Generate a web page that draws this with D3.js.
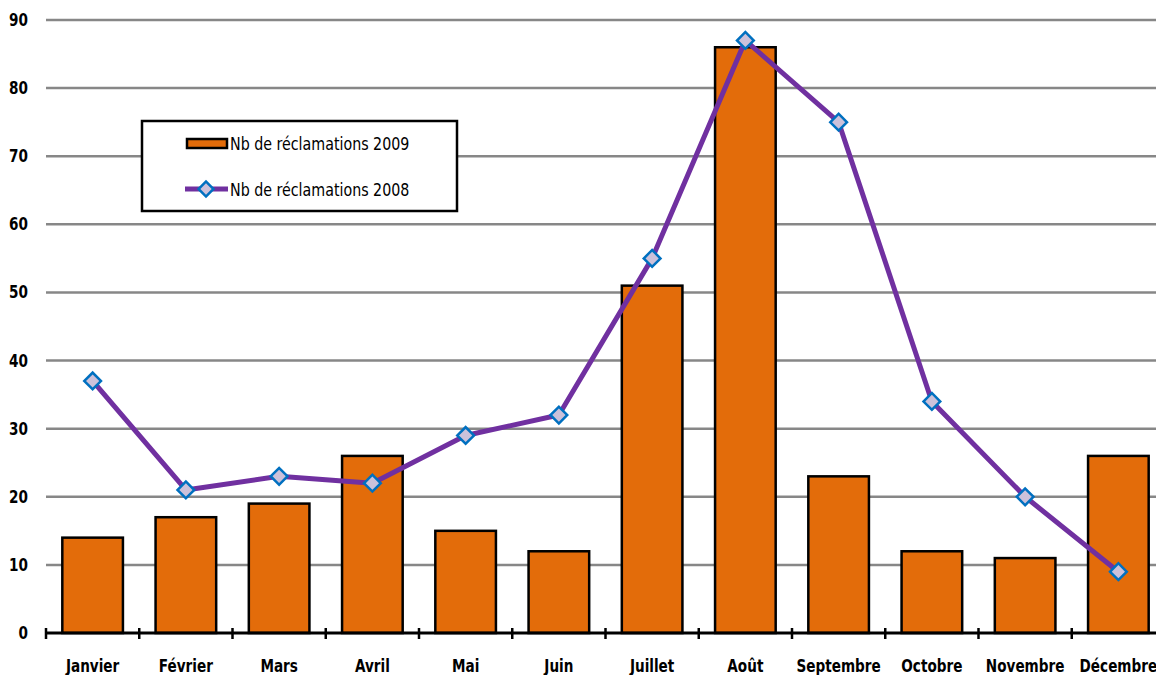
<!DOCTYPE html>
<html>
<head>
<meta charset="utf-8">
<script src="https://cdn.jsdelivr.net/npm/d3@7"></script>
<style>
  body { margin: 0; background: #fff; }
  svg { display: block; font-family: "DejaVu Sans Condensed", sans-serif; }
</style>
</head>
<body>
<svg width="1156" height="675"></svg>
<script>
const months = ["Janvier", "Février", "Mars", "Avril", "Mai", "Juin", "Juillet", "Août", "Septembre", "Octobre", "Novembre", "Décembre"];
const reclam2009 = [14, 17, 19, 26, 15, 12, 51, 86, 23, 12, 11, 26];
const reclam2008 = [37, 21, 23, 22, 29, 32, 55, 87, 75, 34, 20, 9];
const yTicks = [0, 10, 20, 30, 40, 50, 60, 70, 80, 90];
const seriesNames = ["Nb de réclamations 2009", "Nb de réclamations 2008"];

const svg = d3.select("svg");
const margin = {top: 20, left: 46};
const plotW = 1119, plotH = 613;
const squeeze = 0.84; // narrow font look

const chart = svg.append("g")
    .attr("transform", `translate(${margin.left}, ${margin.top})`);

const x = d3.scaleBand()
    .domain(months)
    .range([0, plotW])
    .paddingInner(0.35)
    .paddingOuter(0.175);

const y = d3.scaleLinear()
    .domain([0, 90])
    .range([plotH, 0]);

// grid lines
chart.selectAll("line.grid")
    .data(yTicks.filter(d => d > 0))
    .enter()
    .append("line")
    .attr("class", "grid")
    .attr("x1", 0)
    .attr("x2", plotW)
    .attr("y1", d => y(d))
    .attr("y2", d => y(d))
    .attr("stroke", "#878787")
    .attr("stroke-width", 2.5);

// y labels
chart.selectAll("text.ylab")
    .data(yTicks)
    .enter()
    .append("text")
    .attr("class", "ylab")
    .attr("transform", d => `translate(-18, ${y(d) + 6}) scale(${squeeze}, 1)`)
    .attr("text-anchor", "end")
    .attr("font-size", 18)
    .attr("font-weight", 600)
    .attr("fill", "#000")
    .text(d => d);

// bars
chart.selectAll("rect.bar")
    .data(reclam2009)
    .enter()
    .append("rect")
    .attr("class", "bar")
    .attr("x", (d, i) => x(months[i]))
    .attr("y", d => y(d))
    .attr("width", x.bandwidth())
    .attr("height", d => plotH - y(d))
    .attr("fill", "#E36C0A")
    .attr("stroke", "#000")
    .attr("stroke-width", 2.5);

// x axis
const xAxis = chart.append("g")
    .attr("transform", `translate(0, ${plotH})`);
xAxis.append("line")
    .attr("x1", 0).attr("x2", plotW)
    .attr("stroke", "#000").attr("stroke-width", 3);
xAxis.selectAll("line.tick")
    .data(d3.range(months.length + 1))
    .enter()
    .append("line")
    .attr("class", "tick")
    .attr("x1", i => i * x.step())
    .attr("x2", i => i * x.step())
    .attr("y1", -5).attr("y2", 6)
    .attr("stroke", "#000").attr("stroke-width", 2.5);
xAxis.selectAll("text")
    .data(months)
    .enter()
    .append("text")
    .attr("transform", d => `translate(${x(d) + x.bandwidth() / 2}, 39) scale(${squeeze}, 1)`)
    .attr("text-anchor", "middle")
    .attr("font-size", 18)
    .attr("font-weight", 600)
    .text(d => d);

// line 2008
const line = d3.line()
    .x((d, i) => x(months[i]) + x.bandwidth() / 2)
    .y(d => y(d));

chart.append("path")
    .datum(reclam2008)
    .attr("d", line)
    .attr("fill", "none")
    .attr("stroke", "#7030A0")
    .attr("stroke-width", 5)
    .attr("stroke-linejoin", "round");

const diamond = d3.symbol().type(d3.symbolSquare).size(140);
chart.selectAll("path.marker")
    .data(reclam2008)
    .enter()
    .append("path")
    .attr("class", "marker")
    .attr("d", diamond)
    .attr("transform", (d, i) => `translate(${x(months[i]) + x.bandwidth() / 2}, ${y(d)}) rotate(45)`)
    .attr("fill", "#CCC1DA")
    .attr("stroke", "#0070C0")
    .attr("stroke-width", 2.5);

// legend
const legend = svg.append("g").attr("transform", "translate(142, 121)");
legend.append("rect")
    .attr("width", 315).attr("height", 90)
    .attr("fill", "#fff")
    .attr("stroke", "#000").attr("stroke-width", 2.5);
legend.append("rect")
    .attr("x", 45).attr("y", 18).attr("width", 40).attr("height", 9)
    .attr("fill", "#E36C0A").attr("stroke", "#000").attr("stroke-width", 2.5);
legend.append("line")
    .attr("x1", 43).attr("x2", 86).attr("y1", 68).attr("y2", 68)
    .attr("stroke", "#7030A0").attr("stroke-width", 5);
legend.append("path")
    .attr("d", d3.symbol().type(d3.symbolSquare).size(110))
    .attr("transform", "translate(64, 68) rotate(45)")
    .attr("fill", "#CCC1DA").attr("stroke", "#0070C0").attr("stroke-width", 2.5);
legend.selectAll("text")
    .data(seriesNames)
    .enter()
    .append("text")
    .attr("transform", (d, i) => `translate(88, ${29 + i * 46}) scale(0.88, 1)`)
    .attr("font-size", 18)
    .text(d => d);
</script>
</body>
</html>
